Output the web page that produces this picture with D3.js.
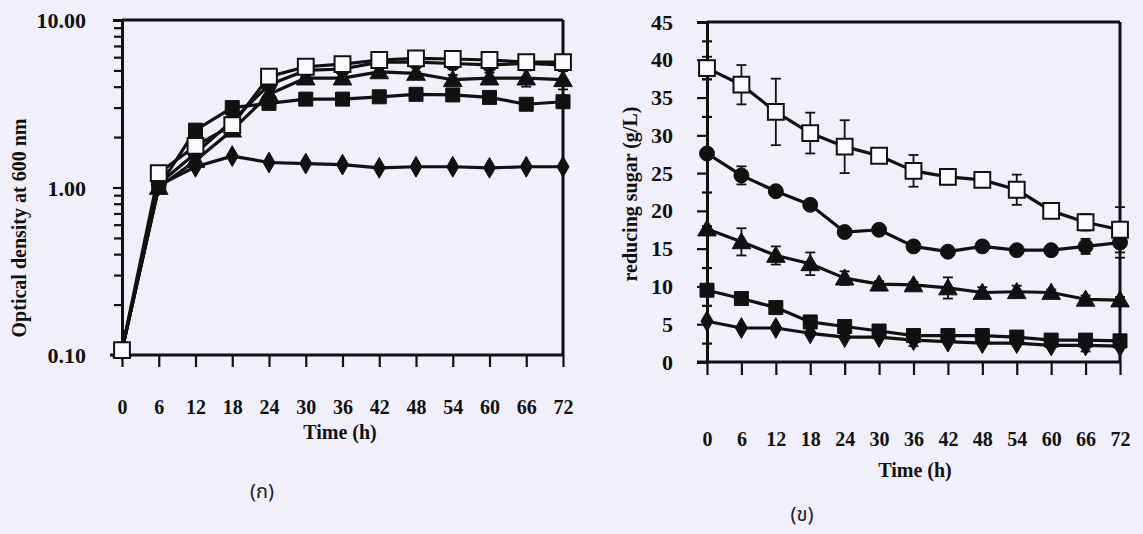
<!DOCTYPE html>
<html>
<head>
<meta charset="utf-8">
<script src="https://cdn.jsdelivr.net/npm/d3@7"></script>
<style>
  html, body { margin: 0; padding: 0; background: #f1eff9; }
  svg { display: block; }
  .lab { font-family: "Liberation Serif", "Times New Roman", serif; font-weight: bold; fill: #111; }
  .thai { font-family: "Noto Sans Thai", "Noto Sans", "DejaVu Sans", sans-serif; fill: #222; }
</style>
</head>
<body>
<svg id="chart" width="1143" height="534"></svg>
<script>
// ---------- data ----------
const times = [0, 6, 12, 18, 24, 30, 36, 42, 48, 54, 60, 66, 72];
const timeTickLabels = ["0","6","12","18","24","30","36","42","48","54","60","66","72"];

// (ก) optical density at 600 nm
const odDiamond      = [0.107, 1.03, 1.33, 1.54, 1.41, 1.39, 1.37, 1.31, 1.33, 1.33, 1.31, 1.33, 1.33];
const odFilledSquare = [0.107, 1.01, 2.20, 3.00, 3.18, 3.37, 3.37, 3.48, 3.60, 3.57, 3.45, 3.14, 3.25];
const odTriangle     = [0.107, 1.00, 1.45, 2.20, 3.60, 4.50, 4.50, 4.90, 4.80, 4.40, 4.50, 4.50, 4.40];
const odCircle       = [0.107, 1.05, 1.60, 2.50, 4.10, 5.00, 5.10, 5.60, 5.60, 5.50, 5.40, 5.50, 5.40];
const odOpenSquare   = [0.107, 1.22, 1.77, 2.36, 4.59, 5.26, 5.45, 5.77, 5.90, 5.85, 5.77, 5.60, 5.60];
const odTriangleErr  = [0, 0, 0, 0, 0, 0.1, 0.1, 0.1, 0.1, 0.3, 0.35, 0.5, 0.55];
const odSquareErr    = [0, 0, 0, 0, 0, 0.05, 0.05, 0.05, 0.05, 0.1, 0.2, 0.1, 0.2];
const odYTicks = [0.1, 1, 10];
const odYTickLabels = ["0.10", "1.00", "10.00"];

// (ข) reducing sugar (g/L)
const sugarOpenSquare   = [38.9, 36.7, 33.1, 30.3, 28.5, 27.3, 25.3, 24.5, 24.1, 22.8, 20.0, 18.5, 17.5];
const sugarOpenSquareErr= [1.5, 2.6, 4.4, 2.7, 3.5, 0.9, 2.1, 1.0, 0.4, 2.0, 0.8, 1.1, 3.0];
const sugarCircle       = [27.6, 24.7, 22.6, 20.8, 17.2, 17.5, 15.3, 14.6, 15.3, 14.8, 14.8, 15.3, 15.8];
const sugarCircleErr    = [0.4, 1.2, 0.4, 0.4, 0.4, 0.4, 0.4, 0.4, 0.4, 0.4, 0.4, 1.0, 2.0];
const sugarTriangle     = [17.6, 15.9, 14.1, 13.0, 11.1, 10.3, 10.2, 9.8, 9.2, 9.3, 9.2, 8.3, 8.2];
const sugarTriangleErr  = [0.4, 1.8, 1.2, 1.5, 0.9, 0.4, 0.4, 1.4, 0.7, 0.8, 0.4, 0.5, 0.4];
const sugarSquare       = [9.5, 8.4, 7.2, 5.3, 4.7, 4.1, 3.5, 3.5, 3.5, 3.3, 2.9, 2.9, 2.8];
const sugarSquareErr    = [0.3, 0.3, 0.3, 0.3, 0.3, 0.3, 0.3, 0.3, 0.3, 0.3, 0.3, 0.3, 0.3];
const sugarDiamond      = [5.4, 4.5, 4.5, 3.8, 3.3, 3.3, 2.9, 2.7, 2.5, 2.5, 2.2, 2.2, 2.1];
const sugarDiamondErr   = [0.2, 0.2, 0.2, 0.2, 0.2, 0.2, 0.8, 0.3, 0.3, 0.3, 0.3, 0.8, 0.3];
const sugarYTicks = [0, 5, 10, 15, 20, 25, 30, 35, 40, 45];

const svg = d3.select("#chart");

function symbolPath(kind) {
  const map = {
    diamond:  d3.symbol().type(d3.symbolDiamond).size(125),
    square:   d3.symbol().type(d3.symbolSquare).size(196),
    triangle: d3.symbol().type(d3.symbolTriangle).size(150),
    circle:   d3.symbol().type(d3.symbolCircle).size(175),
    open:     d3.symbol().type(d3.symbolSquare).size(250)
  };
  return map[kind]();
}

function drawSeries(g, x, y, vals, errs, kind) {
  const pts = times.map((t, i) => ({ t, v: vals[i], e: errs ? errs[i] : 0 }));
  const eg = g.append("g").attr("stroke", "#111").attr("stroke-width", 1.8);
  pts.filter(p => p.e > 0).forEach(p => {
    const cx = x(p.t), y1 = y(p.v + p.e), y0 = y(Math.max(p.v - p.e, 1e-6));
    eg.append("line").attr("x1", cx).attr("x2", cx).attr("y1", y1).attr("y2", y0);
    eg.append("line").attr("x1", cx - 5).attr("x2", cx + 5).attr("y1", y1).attr("y2", y1);
    eg.append("line").attr("x1", cx - 5).attr("x2", cx + 5).attr("y1", y0).attr("y2", y0);
  });
  g.append("path")
    .datum(pts)
    .attr("fill", "none")
    .attr("stroke", "#111")
    .attr("stroke-width", 3.2)
    .attr("stroke-linejoin", "round")
    .attr("d", d3.line().x(p => x(p.t)).y(p => y(p.v)));
  const isOpen = kind === "open";
  g.selectAll(null).data(pts).enter().append("path")
    .attr("transform", p => `translate(${x(p.t)},${y(p.v) + (kind === "triangle" ? 1.5 : 0)})`)
    .attr("d", symbolPath(kind))
    .attr("fill", isOpen ? "#fbfaff" : "#111")
    .attr("stroke", "#111")
    .attr("stroke-width", isOpen ? 2 : 1);
}

function styleAxis(g, width, fs) {
  g.select(".domain").attr("stroke", "#111").attr("stroke-width", width);
  g.selectAll(".tick line").attr("stroke", "#111").attr("stroke-width", 2.2);
  g.selectAll(".tick text").attr("class", "lab").style("font-size", (fs || 21) + "px").attr("fill", "#111");
}

// ---------- left chart (ก) ----------
{
  const x = d3.scaleLinear().domain([0, 72]).range([122, 563]);
  const y = d3.scaleLog().domain([0.1, 10]).range([355, 20]);
  const g = svg.append("g");

  g.append("line").attr("x1", x(0)).attr("x2", x(72)).attr("y1", y(10)).attr("y2", y(10))
    .attr("stroke", "#111").attr("stroke-width", 3);
  g.append("line").attr("x1", x(72)).attr("x2", x(72)).attr("y1", y(10)).attr("y2", y(0.1))
    .attr("stroke", "#111").attr("stroke-width", 3);

  const minor = [];
  [0.1, 1].forEach(d => { for (let k = 2; k <= 9; k++) minor.push(d * k); });
  const ga = g.append("g").attr("transform", `translate(${x(0)},0)`)
    .call(d3.axisLeft(y).tickValues(minor).tickSize(8).tickFormat(""));
  styleAxis(ga, 3);
  const gy = g.append("g").attr("transform", `translate(${x(0)},0)`)
    .call(d3.axisLeft(y).tickValues(odYTicks).tickSize(9).tickPadding(27)
      .tickFormat((d, i) => odYTickLabels[i]));
  styleAxis(gy, 3, 22);
  gy.selectAll(".tick text").attr("dy", "0.35em");

  const gx = g.append("g").attr("transform", `translate(0,${y(0.1)})`)
    .call(d3.axisBottom(x).tickValues(times).tickSize(12).tickPadding(33)
      .tickFormat((d, i) => timeTickLabels[i]).tickSizeOuter(0));
  styleAxis(gx, 3, 20);
  gx.select(".domain").attr("d", `M${x(0) - 12},0H${x(72)}`);

  drawSeries(g, x, y, odDiamond, null, "diamond");
  drawSeries(g, x, y, odFilledSquare, odSquareErr, "square");
  drawSeries(g, x, y, odTriangle, odTriangleErr, "triangle");
  drawSeries(g, x, y, odCircle, null, "circle");
  drawSeries(g, x, y, odOpenSquare, null, "open");

  g.append("text").attr("class", "lab").style("font-size", "20px")
    .attr("transform", "translate(26,228) rotate(-90)").attr("text-anchor", "middle")
    .text("Optical density at 600 nm");
  g.append("text").attr("class", "lab").style("font-size", "20px")
    .attr("x", 340).attr("y", 439).attr("text-anchor", "middle").text("Time (h)");
  g.append("text").attr("class", "thai").style("font-size", "20px")
    .attr("x", 262).attr("y", 498).attr("text-anchor", "middle").text("(ก)");
}

// ---------- right chart (ข) ----------
{
  const x = d3.scaleLinear().domain([0, 72]).range([707, 1120]);
  const y = d3.scaleLinear().domain([0, 45]).range([362, 22]);
  const g = svg.append("g");

  g.append("line").attr("x1", x(0)).attr("x2", x(72)).attr("y1", y(45)).attr("y2", y(45))
    .attr("stroke", "#111").attr("stroke-width", 3);
  g.append("line").attr("x1", x(72)).attr("x2", x(72)).attr("y1", y(45)).attr("y2", y(0))
    .attr("stroke", "#111").attr("stroke-width", 3);

  const minor = sugarYTicks.slice(0, -1).map(d => d + 2.5);
  const gm = g.append("g").attr("transform", `translate(${x(0)},0)`)
    .call(d3.axisLeft(y).tickValues(minor).tickSize(5).tickFormat(""));
  styleAxis(gm, 3);
  gm.selectAll(".tick line").attr("x2", -5).attr("x1", 5);
  const gy = g.append("g").attr("transform", `translate(${x(0)},0)`)
    .call(d3.axisLeft(y).tickValues(sugarYTicks).tickSize(10).tickPadding(24));
  styleAxis(gy, 3, 22);

  const gx = g.append("g").attr("transform", `translate(0,${y(0)})`)
    .call(d3.axisBottom(x).tickValues(times).tickSize(13).tickPadding(57)
      .tickFormat((d, i) => timeTickLabels[i]).tickSizeOuter(0));
  styleAxis(gx, 3, 20);
  gx.select(".domain").attr("d", `M${x(0) - 10},0H${x(72)}`);

  drawSeries(g, x, y, sugarDiamond, sugarDiamondErr, "diamond");
  drawSeries(g, x, y, sugarSquare, sugarSquareErr, "square");
  drawSeries(g, x, y, sugarTriangle, sugarTriangleErr, "triangle");
  drawSeries(g, x, y, sugarCircle, sugarCircleErr, "circle");
  drawSeries(g, x, y, sugarOpenSquare, sugarOpenSquareErr, "open");

  g.append("text").attr("class", "lab").style("font-size", "20px")
    .attr("transform", "translate(637,194) rotate(-90)").attr("text-anchor", "middle")
    .text("reducing sugar (g/L)");
  g.append("text").attr("class", "lab").style("font-size", "20px")
    .attr("x", 915).attr("y", 477).attr("text-anchor", "middle").text("Time (h)");
  g.append("text").attr("class", "thai").style("font-size", "20px")
    .attr("x", 802).attr("y", 521).attr("text-anchor", "middle").text("(ข)");
}
</script>
</body>
</html>
